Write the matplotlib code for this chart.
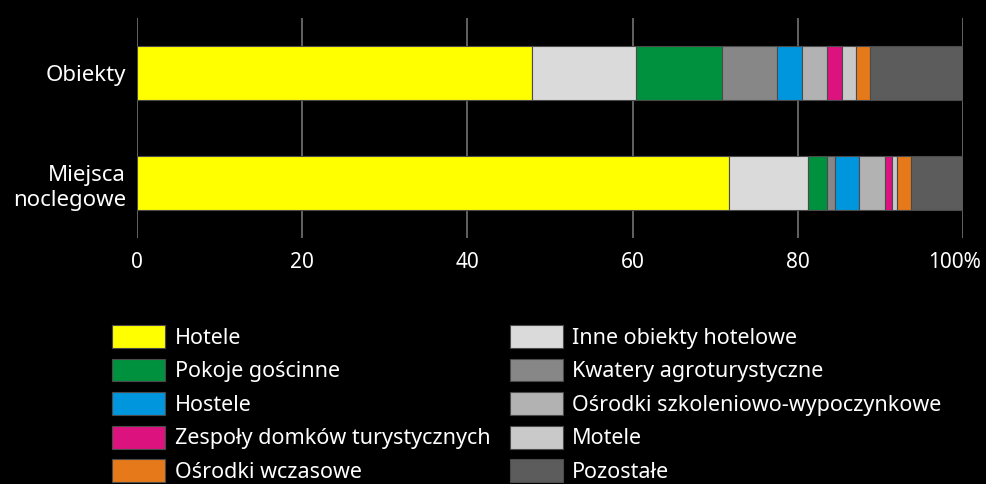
import numpy as np
import matplotlib
matplotlib.use("Agg")
import matplotlib.pyplot as plt
import matplotlib.transforms as mtransforms
from matplotlib.patches import Patch

plt.rcParams['font.family'] = ['Noto Sans', 'DejaVu Sans']

rows = ["Obiekty", "Miejsca\nnoclegowe"]

# order of segments as stacked in the bars
series = ["Hotele", "Inne obiekty hotelowe", "Pokoje gościnne",
          "Kwatery agroturystyczne", "Hostele",
          "Ośrodki szkoleniowo-wypoczynkowe", "Zespoły domków turystycznych",
          "Motele", "Ośrodki wczasowe", "Pozostałe"]
obiekty = [47.8, 12.6, 10.4, 6.7, 3.0, 3.0, 1.8, 1.7, 1.7, 11.3]
miejsca = [71.7, 9.5, 2.3, 1.0, 2.9, 3.2, 0.8, 0.6, 1.7, 6.3]
colors = ["#ffff00", "#d9dad9", "#00913f", "#878787", "#0096de",
          "#b1b2b1", "#dc127f", "#c8c9c8", "#e67919", "#5c5c5c"]

# legend order (two columns, filled column by column)
legend_order = ["Hotele", "Pokoje gościnne", "Hostele",
                "Zespoły domków turystycznych", "Ośrodki wczasowe",
                "Inne obiekty hotelowe", "Kwatery agroturystyczne",
                "Ośrodki szkoleniowo-wypoczynkowe", "Motele", "Pozostałe"]

xticks = [0, 20, 40, 60, 80, 100]
xticklabels = ["0", "20", "40", "60", "80", "100%"]

fig = plt.figure(figsize=(9.87, 4.84), dpi=100)
fig.patch.set_facecolor("black")
ax = fig.add_axes([137/987, 1 - 238/484, (963-137)/987, 220/484])
ax.set_facecolor("black")

data = np.array([obiekty, miejsca])
y = np.arange(len(rows))
left = np.zeros(len(rows))
for i, name in enumerate(series):
    ax.barh(y, data[:, i], left=left, height=0.49, color=colors[i],
            edgecolor="#4a4a4a", linewidth=0.8, zorder=3)
    left += data[:, i]

ax.set_xlim(0, 100)
ax.set_ylim(1.5, -0.5)
ax.set_xticks(xticks)
ax.set_xticklabels(xticklabels)
ax.set_yticks(y)
ax.set_yticklabels(rows, ha="right", multialignment="right", linespacing=1.3)
ax.tick_params(axis="x", length=0, pad=10, labelsize=15, colors="white")
ax.tick_params(axis="y", length=0, pad=8, labelsize=16, colors="white")
ax.grid(axis="x", color="#6a6a6a", linewidth=1.3, zorder=0)
for s in ax.spines.values():
    s.set_visible(False)

# nudge "100%" left so it stays inside the figure
last = ax.get_xticklabels()[-1]
last.set_transform(last.get_transform() +
                   mtransforms.ScaledTranslation(-8/100, 0, fig.dpi_scale_trans))

handles = [Patch(facecolor=colors[series.index(n)], edgecolor="#4a4a4a",
                 linewidth=0.8) for n in legend_order]
leg = fig.legend(handles, legend_order, ncol=2, loc="upper left",
                 bbox_to_anchor=(112/987, 1 - 325/484), frameon=False,
                 fontsize=15.5, labelcolor="white", handlelength=2.46,
                 handleheight=1.26, handletextpad=0.45, labelspacing=0.46,
                 columnspacing=0.9, borderaxespad=0, borderpad=0)

fig.savefig("out.png", dpi=100, facecolor="black")
